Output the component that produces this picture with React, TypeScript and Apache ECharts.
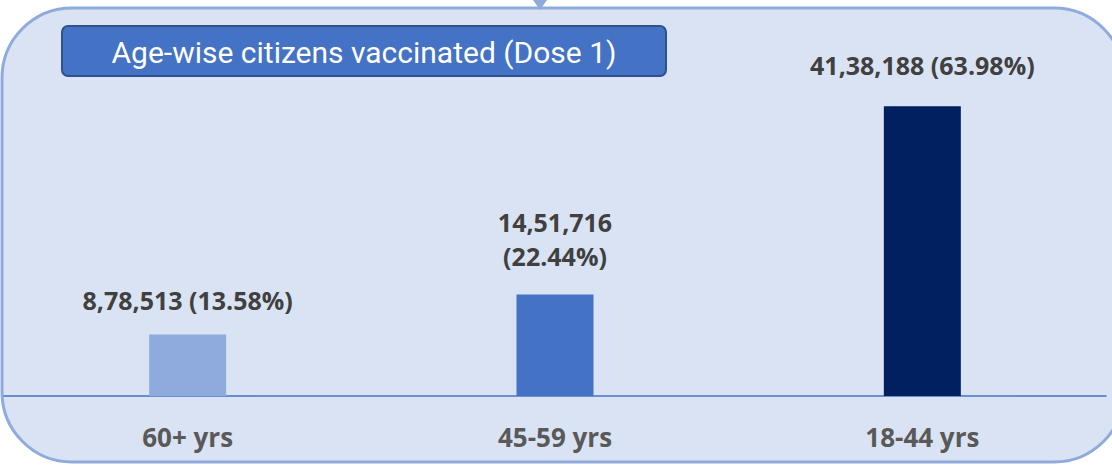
import React, { useEffect, useRef } from "react";
import * as echarts from "echarts";

const categories = ["60+ yrs", "45-59 yrs", "18-44 yrs"];
const vaccinated = [878513, 1451716, 4138188];
const shares = ["13.58%", "22.44%", "63.98%"];
const barColors = ["#8FAADC", "#4472C4", "#002060"];
const titleText = "Age-wise citizens vaccinated (Dose 1)";

function fmtIndian(n: number): string {
  const s = String(n);
  if (s.length <= 3) return s;
  const last3 = s.slice(-3);
  const rest = s.slice(0, -3).replace(/\B(?=(\d{2})+(?!\d))/g, ",");
  return rest + "," + last3;
}

const labelFont = "'Open Sans', 'Noto Sans', sans-serif";

export default function App() {
  const ref = useRef<HTMLDivElement>(null);
  useEffect(() => {
    if (!ref.current) return;
    const chart = echarts.init(ref.current, null, { renderer: "svg" });
    const distances = [20, 21, 26];
    const breaks = [false, true, false];
    chart.setOption({
      animation: false,
      backgroundColor: "#ffffff",
      graphic: [
        {
          type: "rect",
          z: -10,
          shape: { x: 2, y: 8, width: 1122, height: 454, r: 70 },
          style: { fill: "#DAE3F3", stroke: "#8FAADC", lineWidth: 3 },
        },
        {
          type: "polygon",
          z: -9,
          shape: { points: [[533, 0], [547, 0], [540, 10]] },
          style: { fill: "#8FAADC" },
        },
        {
          type: "rect",
          z: 5,
          shape: { x: 62, y: 26, width: 604, height: 50, r: 6 },
          style: { fill: "#4472C4", stroke: "#2F528F", lineWidth: 2 },
        },
        {
          type: "text",
          z: 6,
          x: 364,
          y: 52,
          style: {
            text: titleText,
            fill: "#ffffff",
            font: "30px Roboto, sans-serif",
            align: "center",
            verticalAlign: "middle",
          },
        },
      ],
      grid: { left: 4, right: 6, top: 60, bottom: 69, containLabel: false },
      xAxis: {
        type: "category",
        data: categories,
        axisLine: { show: true, lineStyle: { color: "#4472C4", width: 1.5 } },
        axisTick: { show: false },
        axisLabel: {
          margin: 28,
          color: "#595959",
          fontSize: 26,
          fontWeight: "bold",
          fontFamily: labelFont,
        },
      },
      yAxis: {
        type: "value",
        min: 0,
        max: 4800000,
        show: false,
        splitLine: { show: false },
      },
      series: [
        {
          type: "bar",
          barWidth: 77,
          data: vaccinated.map((v, i) => ({
            value: v,
            itemStyle: { color: barColors[i] },
            label: {
              show: true,
              position: "top",
              distance: distances[i],
              formatter: fmtIndian(v) + (breaks[i] ? "\n" : " ") + "(" + shares[i] + ")",
              color: "#404040",
              fontSize: 25,
              fontWeight: "bold",
              fontFamily: labelFont,
              lineHeight: breaks[i] ? 34 : 30,
              align: "center",
            },
          })),
        },
      ],
    });
    return () => chart.dispose();
  }, []);
  return (
    <div
      ref={ref}
      style={{ position: "absolute", left: 0, top: 0, width: 1112, height: 465 }}
    />
  );
}
